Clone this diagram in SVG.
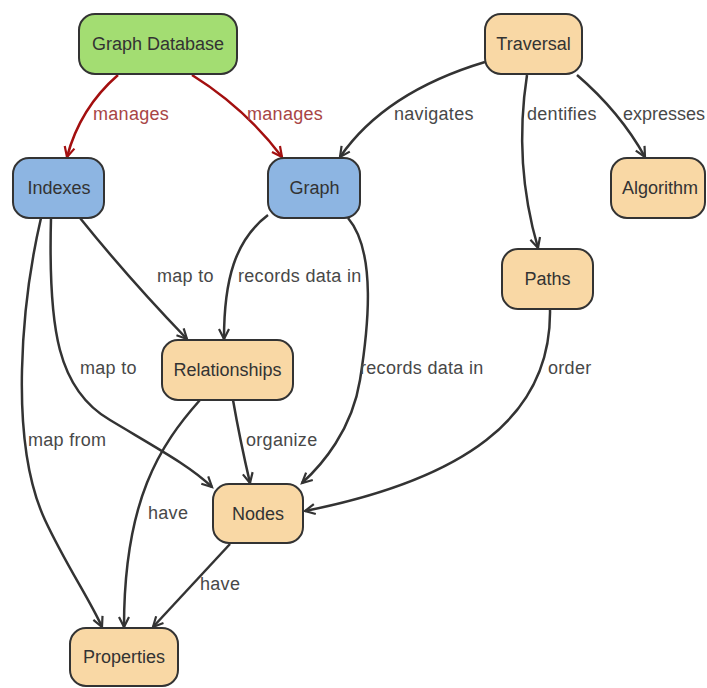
<svg xmlns="http://www.w3.org/2000/svg" width="707" height="688" viewBox="0 0 707 688">
<style>
.node rect{stroke:#333;stroke-width:2}
.node text{font-family:"Liberation Sans",Arial,sans-serif;font-size:18px;fill:#333;text-anchor:middle;dominant-baseline:central}
.green{fill:#a3dd72}
.blue{fill:#8db5e2}
.orange{fill:#f9d8a5}
.e{fill:none;stroke:#333;stroke-width:2.5;marker-end:url(#ah)}
.r{fill:none;stroke:#a30f0f;stroke-width:2.5;marker-end:url(#ahr)}
.lbl{font-family:"Liberation Sans",Arial,sans-serif;font-size:18px;fill:#484848;letter-spacing:0.3px;dominant-baseline:central}
.lr{fill:#a84545}
</style>
<defs>
<marker id="ah" markerWidth="12" markerHeight="12" refX="10" refY="5" orient="auto" markerUnits="userSpaceOnUse" viewBox="0 0 12 10" overflow="visible">
<path d="M0,0 L10,5 L0,10" fill="none" stroke="#333" stroke-width="2.2"/>
</marker>
<marker id="ahr" markerWidth="12" markerHeight="12" refX="10" refY="5" orient="auto" markerUnits="userSpaceOnUse" viewBox="0 0 12 10" overflow="visible">
<path d="M0,0 L10,5 L0,10" fill="none" stroke="#a30f0f" stroke-width="2.2"/>
</marker>
</defs>
<rect width="707" height="688" fill="#fff"/>
<g id="connectors">
<path class="r" d="M118,75 Q80,108 67,157"/>
<path class="r" d="M192,75 Q245,108 282,157"/>
<path class="e" d="M485,62 Q385,92 340,157"/>
<path class="e" d="M527,75 C517,140 524,200 538,248"/>
<path class="e" d="M577,75 Q620,112 645,157"/>
<path class="e" d="M80,218 Q130,280 187,339"/>
<path class="e" d="M268,215 C235,240 224,280 224,339"/>
<path class="e" d="M348,218 C377,252 368,330 360,380 C352,430 322,465 302,483"/>
<path class="e" d="M550,309 C552,420 460,480 305,511"/>
<path class="e" d="M233,400 Q240,440 250,483"/>
<path class="e" d="M51,218 C48,330 58,390 110,420 C160,450 190,466 212,487"/>
<path class="e" d="M41,218 C22,300 8,440 45,520 C66,565 90,600 102,627"/>
<path class="e" d="M200,400 C160,445 124,500 124,627"/>
<path class="e" d="M230,544 L153,627"/>
<text class="lbl lr" x="93" y="114">manages</text>
<text class="lbl lr" x="247" y="114">manages</text>
<text class="lbl" x="394" y="114">navigates</text>
<text class="lbl" x="527" y="114">dentifies</text>
<text class="lbl" x="623" y="114" style="letter-spacing:0">expresses</text>
<text class="lbl" x="157" y="276">map to</text>
<text class="lbl" x="238" y="276">records data in</text>
<text class="lbl" x="80" y="368">map to</text>
<text class="lbl" x="360" y="368">records data in</text>
<text class="lbl" x="548" y="368">order</text>
<text class="lbl" x="28" y="440">map from</text>
<text class="lbl" x="246" y="440">organize</text>
<text class="lbl" x="148" y="513">have</text>
<text class="lbl" x="200" y="584">have</text>
</g>
<g id="graph-database" class="node"><rect class="green" x="79" y="14" width="158" height="60" rx="16"/><text x="158" y="44">Graph Database</text></g>
<g id="traversal" class="node"><rect class="orange" x="485" y="14" width="97" height="60" rx="16"/><text x="533.5" y="44">Traversal</text></g>
<g id="indexes" class="node"><rect class="blue" x="13" y="158" width="91" height="60" rx="16"/><text x="59" y="188">Indexes</text></g>
<g id="graph" class="node"><rect class="blue" x="268" y="158" width="92" height="60" rx="16"/><text x="314.5" y="188">Graph</text></g>
<g id="algorithm" class="node"><rect class="orange" x="611" y="158" width="94" height="60" rx="16"/><text x="660" y="188">Algorithm</text></g>
<g id="paths" class="node"><rect class="orange" x="502" y="249" width="91" height="60" rx="16"/><text x="547.5" y="279">Paths</text></g>
<g id="relationships" class="node"><rect class="orange" x="162" y="340" width="131" height="60" rx="16"/><text x="227.5" y="370">Relationships</text></g>
<g id="nodes" class="node"><rect class="orange" x="213" y="484" width="90" height="59" rx="16"/><text x="258" y="513.5">Nodes</text></g>
<g id="properties" class="node"><rect class="orange" x="70" y="628" width="108" height="58" rx="16"/><text x="124" y="657">Properties</text></g>
</svg>
